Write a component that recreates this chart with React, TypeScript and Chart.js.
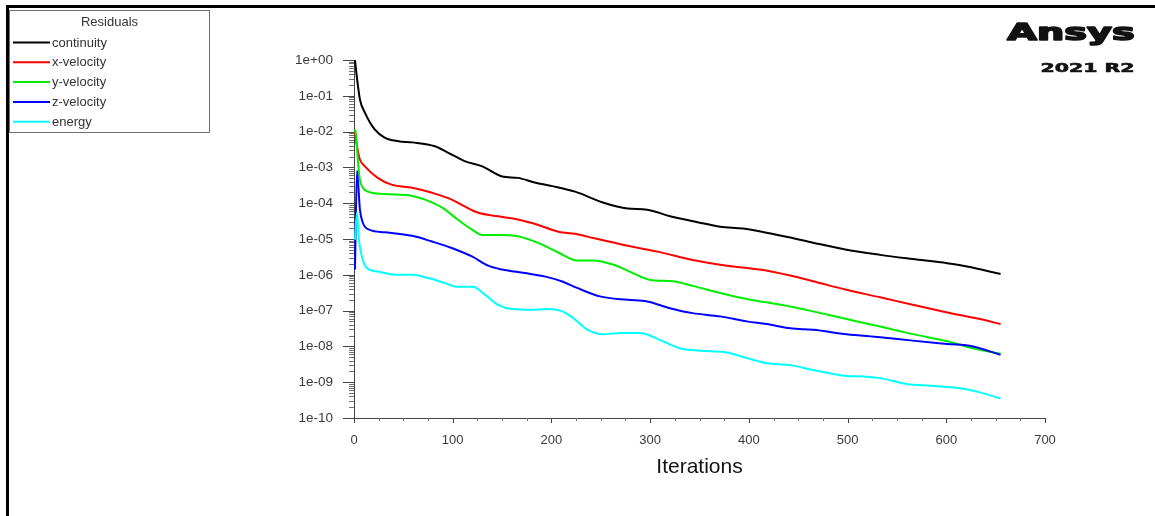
import React, { useEffect, useRef } from "react";
import { Chart, registerables } from "chart.js";

Chart.register(...registerables);

const FONT = "'Liberation Sans', Arial, Helvetica, sans-serif";
const LOGO_FONT = "'DejaVu Sans', 'Liberation Sans', sans-serif";

// Residual history, one pair of arrays per equation
const continuityIter = [1, 2, 4, 6, 11, 21, 31, 45, 59, 82, 95, 112, 130, 150, 166, 183, 201, 224, 252, 277, 297, 320, 347, 371, 394, 418, 442, 465, 499, 533, 566, 601, 621, 655];
const continuityRes = [1.0, 0.55, 0.19, 7.9e-2, 3.4e-2, 1.15e-2, 6.8e-3, 5.4e-3, 5.0e-3, 3.9e-3, 2.6e-3, 1.5e-3, 1.07e-3, 5.6e-4, 5.1e-4, 3.8e-4, 3.0e-4, 2.1e-4, 1.05e-4, 7.1e-5, 6.6e-5, 4.3e-5, 3.0e-5, 2.2e-5, 1.95e-5, 1.5e-5, 1.1e-5, 7.9e-6, 5.0e-6, 3.6e-6, 2.75e-6, 2.1e-6, 1.7e-6, 1.05e-6];

const xVelocityIter = [1, 3, 6, 11, 24, 38, 59, 79, 99, 112, 126, 146, 166, 186, 207, 224, 242, 277, 310, 343, 378, 411, 442, 465, 499, 533, 566, 601, 634, 655];
const xVelocityRes = [1.0e-2, 4.0e-3, 1.66e-3, 1.07e-3, 5.1e-4, 3.3e-4, 2.7e-4, 1.95e-4, 1.26e-4, 8.1e-5, 5.4e-5, 4.3e-5, 3.5e-5, 2.5e-5, 1.6e-5, 1.4e-5, 1.07e-5, 6.5e-6, 4.3e-6, 2.6e-6, 1.8e-6, 1.4e-6, 9.5e-7, 6.6e-7, 3.8e-7, 2.35e-7, 1.45e-7, 8.9e-8, 5.8e-8, 4.2e-8];

const yVelocityIter = [1, 2, 4, 6, 9, 14, 31, 59, 72, 89, 105, 120, 130, 146, 166, 186, 207, 226, 242, 263, 283, 300, 323, 343, 371, 398, 418, 442, 465, 499, 533, 566, 601, 627, 655];
const yVelocityRes = [1.15e-2, 8.0e-3, 1.5e-3, 4.5e-4, 2.7e-4, 2.1e-4, 1.8e-4, 1.6e-4, 1.26e-4, 7.6e-5, 3.5e-5, 1.8e-5, 1.3e-5, 1.3e-5, 1.2e-5, 7.9e-6, 4.2e-6, 2.5e-6, 2.5e-6, 1.9e-6, 1.1e-6, 7.2e-7, 6.6e-7, 4.9e-7, 3.1e-7, 2.1e-7, 1.7e-7, 1.3e-7, 9.5e-8, 5.8e-8, 3.6e-8, 2.2e-8, 1.4e-8, 8.9e-9, 6.2e-9];

const zVelocityIter = [1, 3, 6, 9, 16, 31, 59, 79, 99, 120, 136, 150, 173, 194, 211, 226, 249, 277, 297, 320, 343, 371, 398, 418, 442, 465, 499, 533, 566, 601, 627, 655];
const zVelocityRes = [1.4e-6, 8.0e-4, 6.6e-5, 2.8e-5, 1.8e-5, 1.55e-5, 1.23e-5, 8.5e-6, 5.6e-6, 3.2e-6, 1.8e-6, 1.4e-6, 1.12e-6, 8.9e-7, 6.5e-7, 4.3e-7, 2.5e-7, 2.0e-7, 1.8e-7, 1.17e-7, 8.5e-8, 6.9e-8, 5.0e-8, 4.2e-8, 3.2e-8, 2.9e-8, 2.2e-8, 1.8e-8, 1.45e-8, 1.17e-8, 1.0e-8, 5.8e-9];

const energyIter = [1, 3, 5, 8, 13, 24, 42, 59, 75, 92, 105, 120, 133, 146, 160, 180, 197, 211, 222, 236, 252, 270, 290, 310, 330, 351, 378, 398, 418, 442, 465, 499, 516, 533, 560, 584, 614, 634, 655];
const energyRes = [9.5e-6, 5.4e-5, 9.5e-6, 3.2e-6, 1.55e-6, 1.23e-6, 1.0e-6, 1.0e-6, 8.1e-7, 5.9e-7, 4.6e-7, 4.6e-7, 2.75e-7, 1.45e-7, 1.1e-7, 1.05e-7, 1.1e-7, 9.5e-8, 6.2e-8, 3.0e-8, 2.2e-8, 2.35e-8, 2.35e-8, 1.5e-8, 8.9e-9, 7.6e-9, 6.8e-9, 4.7e-9, 3.4e-9, 3.0e-9, 2.2e-9, 1.5e-9, 1.45e-9, 1.3e-9, 8.9e-10, 7.9e-10, 6.8e-10, 5.2e-10, 3.5e-10];

const seriesNames = ["continuity", "x-velocity", "y-velocity", "z-velocity", "energy"];
const seriesColors = ["#000000", "#ff0000", "#00ee00", "#0000ff", "#00ffff"];
const legendTitle = "Residuals";
const xTitle = "Iterations";
const logoName = "Ansys";
const logoRelease = "2021 R2";

const xMin = 0;
const xMax = 700;
const xStep = 100;
const xMinorStep = 25;
const yTickValues = [1, 1e-1, 1e-2, 1e-3, 1e-4, 1e-5, 1e-6, 1e-7, 1e-8, 1e-9, 1e-10];
const yMinorMantissas = [2, 3, 4, 5, 6, 7, 8, 9];

function formatExp(v: number): string {
  const e = Math.round(Math.log10(v));
  const sign = e < 0 ? "-" : "+";
  return `1e${sign}${String(Math.abs(e)).padStart(2, "0")}`;
}

function toPoints(iters: number[], values: number[]) {
  return iters.map((it, i) => ({ x: it, y: values[i] }));
}

// outer frame lines along the top and left edges
const framePlugin = {
  id: "frame",
  beforeDraw(chart: any) {
    const { ctx, width, height } = chart;
    ctx.save();
    ctx.fillStyle = "#ffffff";
    ctx.fillRect(0, 0, width, height);
    ctx.fillStyle = "#000000";
    ctx.fillRect(6, 5, width - 6, 3);
    ctx.fillRect(6, 5, 3, height - 5);
    ctx.restore();
  },
};

// major / minor tick marks on both axes
const tickMarksPlugin = {
  id: "tickMarks",
  afterDraw(chart: any) {
    const { ctx, chartArea, scales } = chart;
    const xs = scales.x;
    const ys = scales.y;
    const left = Math.round(chartArea.left);
    const bottom = Math.round(chartArea.bottom);
    ctx.save();
    ctx.lineWidth = 1;

    // major ticks
    ctx.strokeStyle = "#444444";
    ctx.beginPath();
    yTickValues.forEach((v) => {
      const py = Math.round(ys.getPixelForValue(v)) + 0.5;
      ctx.moveTo(left - 11, py);
      ctx.lineTo(left, py);
    });
    for (let v = xMin; v <= xMax; v += xStep) {
      const px = Math.round(xs.getPixelForValue(v)) + 0.5;
      ctx.moveTo(px, bottom);
      ctx.lineTo(px, bottom + 5);
    }
    ctx.stroke();

    // minor ticks
    ctx.strokeStyle = "#707070";
    ctx.beginPath();
    yTickValues.forEach((v) => {
      yMinorMantissas.forEach((m) => {
        const val = v * m;
        if (val > 1.0000001) return;
        const py = Math.round(ys.getPixelForValue(val)) + 0.5;
        ctx.moveTo(left - 5, py);
        ctx.lineTo(left, py);
      });
    });
    for (let v = xMin; v <= xMax; v += xMinorStep) {
      if (v % xStep === 0) continue;
      const px = Math.round(xs.getPixelForValue(v)) + 0.5;
      ctx.moveTo(px, bottom);
      ctx.lineTo(px, bottom + 3);
    }
    ctx.stroke();
    ctx.restore();
  },
};

// boxed legend in the upper-left corner
const residualLegendPlugin = {
  id: "residualLegend",
  afterDraw(chart: any) {
    const { ctx } = chart;
    ctx.save();
    ctx.strokeStyle = "#707070";
    ctx.lineWidth = 1;
    ctx.strokeRect(9.5, 10.5, 200, 122);
    ctx.font = `13px ${FONT}`;
    ctx.fillStyle = "#333333";
    ctx.textBaseline = "middle";
    ctx.textAlign = "center";
    ctx.fillText(legendTitle, 109.5, 22.5);
    ctx.textAlign = "left";
    chart.data.datasets.forEach((ds: any, i: number) => {
      const y = 42.5 + i * 19.8;
      ctx.strokeStyle = ds.borderColor;
      ctx.lineWidth = 2;
      ctx.beginPath();
      ctx.moveTo(13, y);
      ctx.lineTo(50, y);
      ctx.stroke();
      ctx.fillStyle = "#333333";
      ctx.fillText(ds.label, 52, y + 0.5);
    });
    ctx.restore();
  },
};

function stretchedText(ctx: CanvasRenderingContext2D, text: string, right: number, baseline: number, font: string, width: number, weight: number) {
  ctx.font = font;
  const w = ctx.measureText(text).width + weight;
  const sx = width / w;
  ctx.save();
  ctx.translate(right - width + (weight / 2) * sx, baseline);
  ctx.scale(sx, 1);
  ctx.textAlign = "left";
  ctx.textBaseline = "alphabetic";
  ctx.lineJoin = "round";
  ctx.lineWidth = weight;
  ctx.strokeText(text, 0, 0);
  ctx.fillText(text, 0, 0);
  ctx.restore();
}

// product badge in the upper-right corner
const logoPlugin = {
  id: "logo",
  afterDraw(chart: any) {
    const { ctx } = chart;
    ctx.save();
    ctx.fillStyle = "#111111";
    ctx.strokeStyle = "#111111";
    stretchedText(ctx, logoName, 1136, 40, `bold 23px ${LOGO_FONT}`, 130, 1.6);
    stretchedText(ctx, logoRelease, 1135, 71.5, `bold 12px ${LOGO_FONT}`, 95, 0.6);
    ctx.restore();
  },
};

export default function App() {
  const canvasRef = useRef<HTMLCanvasElement>(null);

  useEffect(() => {
    const canvas = canvasRef.current;
    if (!canvas) return;

    const series = [
      toPoints(continuityIter, continuityRes),
      toPoints(xVelocityIter, xVelocityRes),
      toPoints(yVelocityIter, yVelocityRes),
      toPoints(zVelocityIter, zVelocityRes),
      toPoints(energyIter, energyRes),
    ];

    const datasets = series.map((data, i) => ({
      label: seriesNames[i],
      data,
      borderColor: seriesColors[i],
      backgroundColor: seriesColors[i],
      borderWidth: 2,
      pointRadius: 0,
      fill: false,
      cubicInterpolationMode: "monotone" as const,
      clip: false as any,
      order: series.length - i,
    }));

    const chart = new Chart(canvas, {
      type: "line",
      data: { datasets },
      options: {
        animation: false,
        responsive: false,
        devicePixelRatio: 1,
        parsing: false as any,
        layout: { padding: { top: 60, right: 110, bottom: 0, left: 0 } },
        plugins: {
          legend: { display: false },
          tooltip: { enabled: false },
        },
        scales: {
          x: {
            type: "linear",
            min: xMin,
            max: xMax,
            grid: { drawOnChartArea: false, drawTicks: false },
            border: { color: "#444444", width: 1 },
            ticks: {
              stepSize: xStep,
              padding: 15,
              color: "#3a3a3a",
              maxRotation: 0,
              font: { size: 13, family: FONT },
            },
            title: {
              display: true,
              text: xTitle,
              color: "#111111",
              font: { size: 21, family: FONT },
              padding: { top: 0, bottom: 36 },
            },
            afterFit: (scale: any) => {
              scale.height = 98;
            },
          },
          y: {
            type: "logarithmic",
            min: 1e-10,
            max: 1,
            grid: { drawOnChartArea: false, drawTicks: false },
            border: { color: "#444444", width: 1 },
            ticks: {
              padding: 21,
              color: "#3a3a3a",
              autoSkip: false,
              font: { size: 13.5, family: FONT },
              callback: (v: any) => formatExp(Number(v)),
            },
            afterBuildTicks: (scale: any) => {
              scale.ticks = yTickValues.map((v) => ({ value: v }));
            },
            afterFit: (scale: any) => {
              scale.width = 354;
            },
          },
        },
      },
      plugins: [framePlugin, tickMarksPlugin, residualLegendPlugin, logoPlugin],
    } as any);

    return () => chart.destroy();
  }, []);

  return (
    <div style={{ position: "absolute", left: 0, top: 0, width: 1155, height: 516, background: "#ffffff" }}>
      <canvas ref={canvasRef} width={1155} height={516} style={{ display: "block", width: 1155, height: 516 }} />
    </div>
  );
}
